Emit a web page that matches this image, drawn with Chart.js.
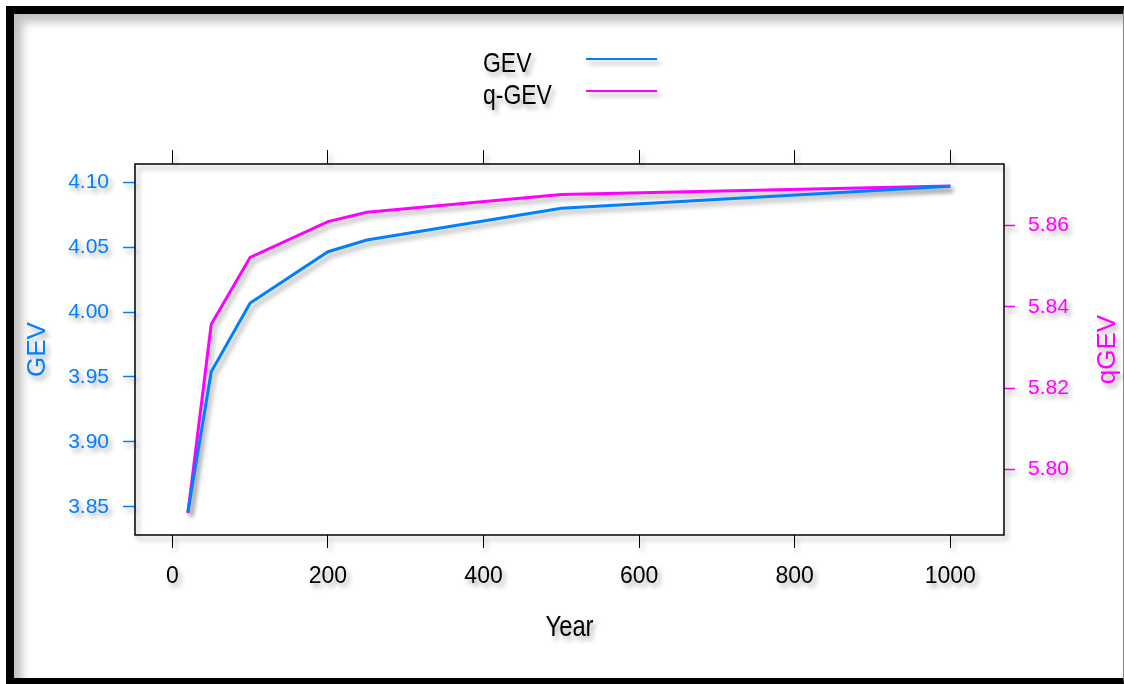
<!DOCTYPE html>
<html>
<head>
<meta charset="utf-8">
<script src="https://cdn.jsdelivr.net/npm/chart.js@4.4.1/dist/chart.umd.min.js"></script>
<style>
  html, body { margin: 0; padding: 0; background: #fff; }
  #frame {
    position: absolute; left: 6px; top: 6px; width: 1109px; height: 664px;
    border-top: 8px solid #000; border-left: 8px solid #000;
    border-bottom: 6px solid #000; border-right: 1px solid #888;
    box-shadow: inset 8px 8px 10px rgba(0, 0, 0, 0.25);
  }
  #chart { position: absolute; left: 0; top: 0; }
</style>
</head>
<body>
<div id="frame"></div>
<canvas id="chart" width="1124" height="684"></canvas>
<script>
// values
const years = [20, 50, 100, 200, 250, 500, 1000];
const gev = [3.846, 3.954, 4.007, 4.0465, 4.0555, 4.080, 4.097];
const qgev = [5.7892, 5.8357, 5.8522, 5.8610, 5.8633, 5.8677, 5.8698];

const xTicks = [0, 200, 400, 600, 800, 1000];
const gevTicks = [3.85, 3.90, 3.95, 4.00, 4.05, 4.10];
const qgevTicks = [5.80, 5.82, 5.84, 5.86];

const BLUE = '#0080ff';
const MAGENTA = '#ff00ff';
const SANS = "'Liberation Sans', Arial, sans-serif";

const setTicks = arr => scale => { scale.ticks = arr.map(v => ({ value: v })); };

// squeezed text, the reference looks horizontally compressed
function narrowText(ctx, text, x, y) {
  ctx.save();
  ctx.translate(x, y);
  ctx.scale(0.82, 1);
  ctx.fillText(text, 0, 0);
  ctx.restore();
}

const decor = {
  id: 'decor',
  beforeDraw(chart) {
    const ctx = chart.ctx;
    ctx.shadowColor = 'rgba(0,0,0,0.35)';
    ctx.shadowBlur = 5;
    ctx.shadowOffsetX = 3;
    ctx.shadowOffsetY = 4;
  },
  afterDraw(chart) {
    const ctx = chart.ctx;
    const a = chart.chartArea;
    ctx.save();
    // plot box
    ctx.strokeStyle = '#000';
    ctx.lineWidth = 1.5;
    ctx.strokeRect(a.left, a.top, a.right - a.left, a.bottom - a.top);

    // axis titles
    ctx.textAlign = 'center';
    ctx.textBaseline = 'middle';
    ctx.fillStyle = '#000';
    ctx.font = '29px ' + SANS;
    narrowText(ctx, 'Year', (a.left + a.right) / 2, 628);

    ctx.save();
    ctx.translate(38, (a.top + a.bottom) / 2);
    ctx.rotate(-Math.PI / 2);
    ctx.fillStyle = BLUE;
    ctx.font = '26px ' + SANS;
    ctx.fillText('GEV', 0, 0);
    ctx.restore();

    ctx.save();
    ctx.translate(1108, (a.top + a.bottom) / 2);
    ctx.rotate(-Math.PI / 2);
    ctx.fillStyle = MAGENTA;
    ctx.font = '26px ' + SANS;
    ctx.fillText('qGEV', 0, 0);
    ctx.restore();

    // legend
    ctx.textAlign = 'left';
    ctx.textBaseline = 'alphabetic';
    ctx.font = '28px ' + SANS;
    ctx.fillStyle = '#000';
    const rows = [72, 104];
    chart.data.datasets.forEach((ds, i) => {
      narrowText(ctx, ds.label, 483, rows[i]);
      ctx.strokeStyle = ds.borderColor;
      ctx.lineWidth = 2;
      ctx.beginPath();
      ctx.moveTo(586, rows[i] - 13);
      ctx.lineTo(657, rows[i] - 13);
      ctx.stroke();
    });
    ctx.restore();

    ctx.shadowColor = 'rgba(0,0,0,0)';
    ctx.shadowBlur = 0;
    ctx.shadowOffsetX = 0;
    ctx.shadowOffsetY = 0;
  }
};

new Chart(document.getElementById('chart'), {
  type: 'line',
  data: {
    datasets: [
      {
        label: 'GEV',
        data: years.map((x, i) => ({ x: x, y: gev[i] })),
        borderColor: BLUE,
        borderWidth: 3,
        pointRadius: 0,
        tension: 0,
        yAxisID: 'y'
      },
      {
        label: 'q-GEV',
        data: years.map((x, i) => ({ x: x, y: qgev[i] })),
        borderColor: MAGENTA,
        borderWidth: 3,
        pointRadius: 0,
        tension: 0,
        yAxisID: 'y2'
      }
    ]
  },
  options: {
    responsive: false,
    animation: false,
    devicePixelRatio: 1,
    layout: { padding: 0 },
    plugins: { legend: { display: false }, tooltip: { enabled: false } },
    scales: {
      x: {
        type: 'linear',
        position: 'bottom',
        min: -48,
        max: 1069,
        afterBuildTicks: setTicks(xTicks),
        afterFit: s => { s.height = 149; },
        border: { display: false },
        grid: { drawOnChartArea: false, tickLength: 13, tickColor: '#000', tickWidth: 1 },
        ticks: {
          color: '#000', font: { family: SANS, size: 23 }, padding: 15,
          maxRotation: 0, autoSkip: false, callback: v => String(v)
        }
      },
      x2: {
        type: 'linear',
        position: 'top',
        min: -48,
        max: 1069,
        afterBuildTicks: setTicks(xTicks),
        afterFit: s => { s.height = 164; },
        border: { display: false },
        grid: { drawOnChartArea: false, tickLength: 14, tickColor: '#000', tickWidth: 1 },
        ticks: { display: false }
      },
      y: {
        type: 'linear',
        position: 'left',
        min: 3.8282,
        max: 4.1141,
        afterBuildTicks: setTicks(gevTicks),
        afterFit: s => { s.width = 135; },
        border: { display: false },
        grid: { drawOnChartArea: false, tickLength: 12, tickColor: BLUE, tickWidth: 1.5 },
        ticks: { color: BLUE, font: { family: SANS, size: 21 }, padding: 14, callback: v => v.toFixed(2) }
      },
      y2: {
        type: 'linear',
        position: 'right',
        min: 5.7838,
        max: 5.8752,
        afterBuildTicks: setTicks(qgevTicks),
        afterFit: s => { s.width = 120; },
        border: { display: false },
        grid: { drawOnChartArea: false, tickLength: 11, tickColor: MAGENTA, tickWidth: 1.5 },
        ticks: { color: MAGENTA, font: { family: SANS, size: 21 }, padding: 13, callback: v => v.toFixed(2) }
      }
    }
  },
  plugins: [decor]
});
</script>
</body>
</html>
